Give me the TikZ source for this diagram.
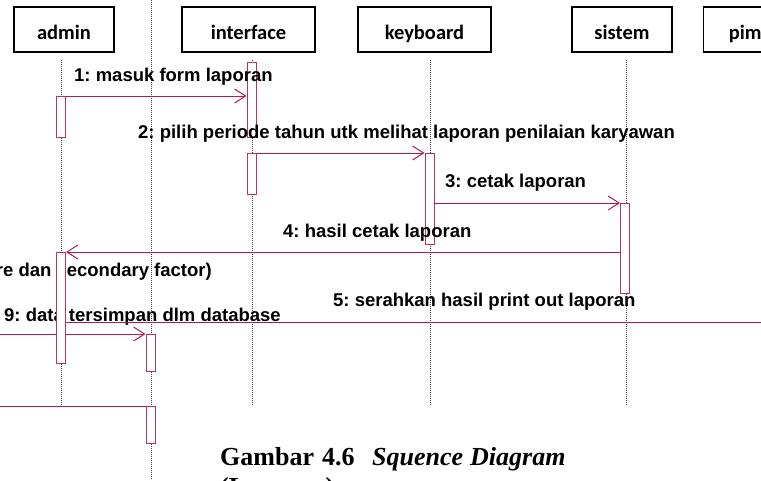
\documentclass[tikz,border=0pt]{standalone}
\usepackage{fontspec}
\setmainfont{Liberation Sans}
\newfontfamily\boxfont{Carlito}
\newfontfamily\capfont{Liberation Serif}
\usetikzlibrary{arrows.meta}
\frenchspacing
\definecolor{msgred}{RGB}{176,28,78}
\definecolor{actred}{RGB}{184,52,96}
\tikzset{
  objbox/.style={draw=black, line width=1.4pt, minimum height=45pt, inner sep=0pt,
    text height=19pt, text depth=0pt,
    font=\boxfont\bfseries\fontsize{20.5}{24}\selectfont},
  lifeline/.style={draw=black!75, line width=0.7pt, dash pattern=on 1pt off 1pt},
  actbox/.style={draw=actred, fill=white, line width=1pt, minimum width=9pt, inner sep=0pt},
  msg/.style={draw=msgred, line width=1pt},
  msgarrow/.style={msg, -{Straight Barb[length=11pt,width=14pt,line width=1pt]}},
  msglabel/.style={anchor=base west, inner sep=0pt,
    font=\bfseries\fontsize{18.5}{22}\selectfont},
  capbold/.style={anchor=base west, inner sep=0pt,
    font=\capfont\bfseries\fontsize{26}{30}\selectfont},
}
\begin{document}
\begin{tikzpicture}[x=1pt, y=-1pt]
\useasboundingbox (0,0) rectangle (761,480);
\clip (0,0) rectangle (761,480);

% object boxes
\node[objbox, minimum width=100pt] (admin) at (64,29.5) {admin};
\node[objbox, minimum width=133pt] (iface) at (248.5,29.5) {interface};
\node[objbox, minimum width=133pt] (kbd) at (424.5,29.5) {keyboard};
\node[objbox, minimum width=100pt] (sys) at (622,29.5) {sistem};
\node[objbox, minimum width=131pt, anchor=west] (pim) at (703,29.5) {pimpinan};

% lifelines
\coordinate (adminEnd) at (61,406);
\coordinate (ifaceEnd) at (252,406);
\coordinate (kbdEnd) at (430,406);
\coordinate (sysEnd) at (626,406);
\coordinate (dbTop) at (151,0);
\coordinate (dbEnd) at (151,480);
\draw[lifeline] (61,60) -- (adminEnd);
\draw[lifeline] (252,60) -- (ifaceEnd);
\draw[lifeline] (430,60) -- (kbdEnd);
\draw[lifeline] (626,60) -- (sysEnd);
\draw[lifeline] (dbTop) -- (dbEnd);

% text of the neighbouring sheet, partly hidden by the activations
\node[msglabel, anchor=base east] (secf) at (212,276) {re dan secondary factor)};
\node[msglabel] (m9) at (4,321) {9: data tersimpan dlm database};

% free ends on the left and right edges
\coordinate (left9) at (0,334);
\coordinate (leftB) at (0,406);
\coordinate (right5) at (761,322);

% activation bars
\node[actbox, minimum height=41pt] (adm1) at (61,116.5) {};
\node[actbox, minimum height=111pt] (adm2) at (61,307.5) {};
\node[actbox, minimum height=75pt] (if1) at (251.5,99.5) {};
\node[actbox, minimum height=41pt] (if2) at (251.5,173.5) {};
\node[actbox, minimum height=91pt] (kb1) at (429.5,198.5) {};
\node[actbox, minimum height=90pt] (sy1) at (625,248) {};
\node[actbox, minimum height=37pt] (db1) at (150.5,352.5) {};
\node[actbox, minimum height=37pt] (db2) at (150.5,424.5) {};

% messages
\draw[msgarrow] (adm1.east |- 0,96) -- (if1.west |- 0,96);
\draw[msgarrow] (if2.east |- 0,153) -- (kb1.west |- 0,153);
\draw[msgarrow] (kb1.east |- 0,203) -- (sy1.west |- 0,203);
\draw[msgarrow] (sy1.west |- 0,252) -- (adm2.east |- 0,252);
\draw[msg] (adm2.east |- right5) -- (right5);
\draw[msg] (left9) -- (adm2.west |- left9);
\draw[msgarrow] (adm2.east |- left9) -- (db1.west |- left9);
\draw[msg] (leftB) -- (db2.west |- leftB);

% message labels
\node[msglabel] (l1) at (74,81) {1: masuk form laporan};
\node[msglabel] (l2) at (138,138) {2: pilih periode tahun utk melihat laporan penilaian karyawan};
\node[msglabel] (l3) at (445,187) {3: cetak laporan};
\node[msglabel] (l4) at (283,237) {4: hasil cetak laporan};
\node[msglabel] (l5) at (333,306) {5: serahkan hasil print out laporan};

% caption
\node[capbold] (cap1) at (220,465) {Gambar};
\node[capbold] (cap2) at (322,465) {4.6};
\node[capbold] (cap3) at (372,465) {\itshape Squence};
\node[capbold] (cap4) at (470,465) {\itshape Diagram};
\node[capbold] (cap5) at (220,495) {(Laporan)};
\end{tikzpicture}
\end{document}
